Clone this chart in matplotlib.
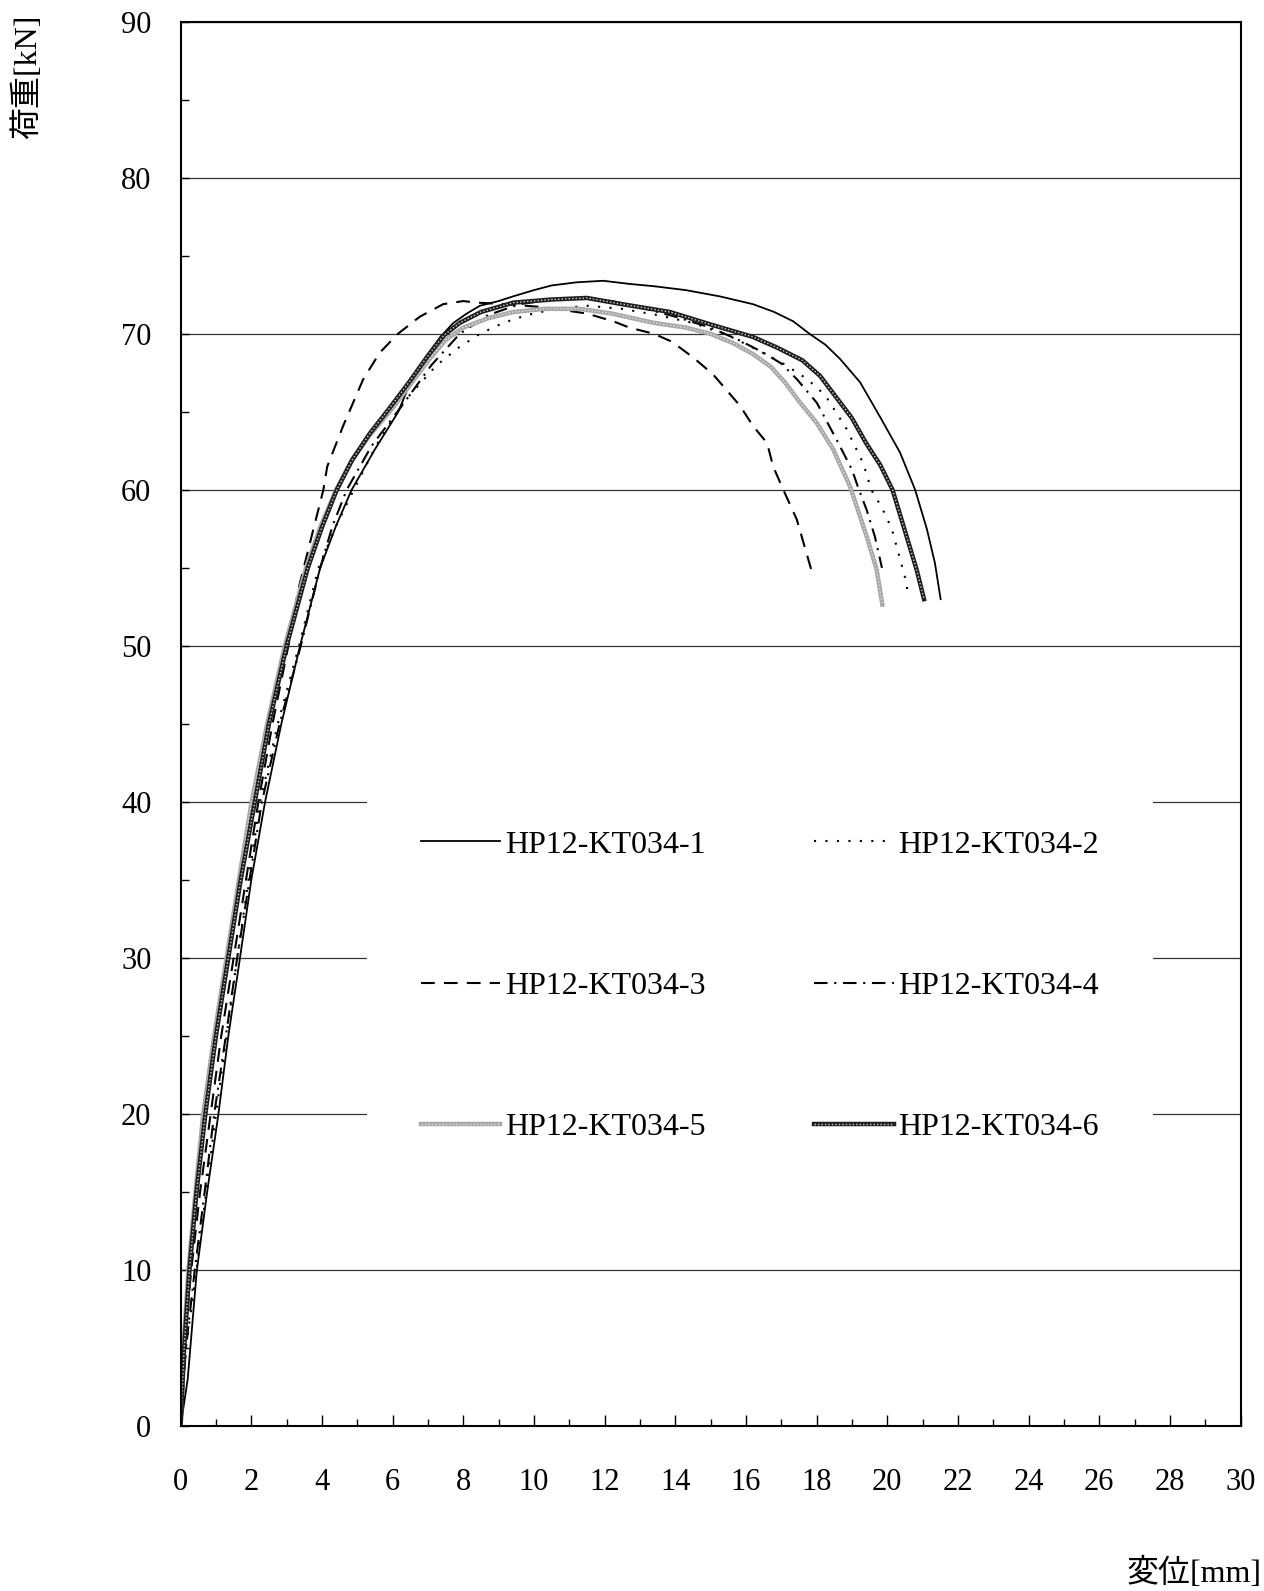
import matplotlib
matplotlib.use("Agg")
import matplotlib.pyplot as plt
from matplotlib.ticker import MultipleLocator

plt.rcParams['font.family'] = ['Liberation Serif', 'Noto Sans CJK JP']

labels = ["HP12-KT034-1", "HP12-KT034-2", "HP12-KT034-3",
          "HP12-KT034-4", "HP12-KT034-5", "HP12-KT034-6"]

# displacement [mm] / load [kN]
x1 = [0, 0.2, 0.46, 0.75, 1.07, 1.35, 1.68, 2.0, 2.39, 2.85, 3.38, 3.95, 4.4, 4.84, 5.5, 6.16, 6.45, 6.97,
      7.35, 7.72, 8.1, 8.47, 9.0, 9.41, 10.0, 10.5, 11.2, 11.96, 12.7, 13.4, 14.3, 15.26, 16.2, 16.8,
      17.34, 17.8, 18.25, 18.66, 19.23, 19.79, 20.36, 20.79, 21.12, 21.35, 21.51]
y1 = [0, 3, 10, 15, 20, 25, 30, 35, 40, 45, 50, 55, 57.7, 60, 62.6, 65, 66.6, 68.6,
      69.8, 70.7, 71.3, 71.8, 72.1, 72.4, 72.8, 73.1, 73.3, 73.4, 73.2, 73.05, 72.8, 72.4, 71.9, 71.4,
      70.8, 70.0, 69.3, 68.4, 66.9, 64.7, 62.4, 60.0, 57.5, 55.3, 53.0]

x2 = [0, 0.15, 0.45, 0.72, 1.0, 1.3, 1.6, 1.92, 2.25, 2.75, 3.35, 3.9, 4.4, 4.9, 5.55, 6.3, 7.25, 7.86,
      8.47, 9.13, 9.8, 10.6, 11.5, 12.5, 13.5, 14.5, 15.5, 16.3, 17.05, 17.6, 18.0, 18.29, 18.85, 19.32,
      19.55, 19.84, 20.13, 20.31, 20.55, 20.58]
y2 = [0, 5, 10, 15, 20, 25, 30, 35, 40, 45, 50, 55, 57.7, 60, 62.9, 65.6, 68.0, 69.1,
      70.0, 70.7, 71.2, 71.6, 71.8, 71.6, 71.2, 70.7, 69.9, 69.0, 68.1, 67.3, 66.6, 65.9, 63.9, 61.7,
      60.0, 58.9, 57.5, 56.0, 54.0, 53.2]

x3 = [0, 0.1, 0.3, 0.55, 0.85, 1.15, 1.5, 1.85, 2.2, 2.6, 3.05, 3.33, 3.66, 4.04, 4.15, 4.6, 5.17, 5.64,
      6.15, 6.77, 7.43, 8.0, 8.38, 9.2, 10.3, 11.5, 12.25, 12.7, 13.4, 13.9, 14.5, 15.07, 15.45, 15.83,
      16.2, 16.6, 16.77, 17.06, 17.44, 17.86]
y3 = [0, 5, 10, 15, 20, 25, 30, 35, 40, 45, 50, 53.6, 56.6, 60, 61.5, 64.1, 67.1, 68.8,
      70.0, 71.1, 71.9, 72.1, 72.0, 71.9, 71.7, 71.3, 70.8, 70.4, 70.0, 69.5, 68.5, 67.4, 66.4, 65.4,
      64.1, 63.0, 61.5, 60.0, 58.1, 54.8]

x4 = [0, 0.15, 0.4, 0.68, 0.95, 1.28, 1.6, 1.95, 2.3, 2.8, 3.4, 3.95, 4.3, 4.7, 5.4, 6.3, 7.1, 7.9, 8.7,
      9.6, 10.5, 11.3, 12.2, 13.0, 14.0, 15.0, 15.8, 16.49, 17.0, 17.44, 18.0, 18.57, 19.0, 19.2, 19.42,
      19.65, 19.85]
y4 = [0, 5, 10, 15, 20, 25, 30, 35, 40, 45, 50, 55, 57.7, 60, 62.8, 65.5, 68.0, 70.0, 71.2,
      71.9, 72.2, 72.3, 72.1, 71.7, 71.1, 70.4, 69.6, 68.8, 68.1, 67.1, 65.6, 63.2, 61.3, 60.0, 58.7,
      57.0, 55.0]

x5 = [0, 0.08, 0.22, 0.42, 0.64, 0.95, 1.3, 1.65, 2.01, 2.45, 2.95, 3.55, 3.95, 4.4, 4.85, 5.35, 5.95,
      6.55, 7.05, 7.5, 8.0, 8.7, 9.42, 10.3, 11.3, 12.2, 13.4, 14.3, 15.0, 15.64, 16.2, 16.7,
      17.1, 17.53, 18.0, 18.47, 18.95, 19.42, 19.70, 19.86]
y5 = [0, 5, 10, 15, 20, 25, 30, 35, 40, 45, 50, 55, 57.6, 60, 61.9, 63.5, 65.1,
      66.9, 68.4, 69.6, 70.4, 71.0, 71.4, 71.6, 71.6, 71.3, 70.7, 70.4, 70.0, 69.4, 68.7, 67.9,
      66.9, 65.6, 64.3, 62.6, 60.2, 57.0, 54.9, 52.65]

x6 = [0, 0.1, 0.25, 0.45, 0.7, 1.0, 1.35, 1.7, 2.1, 2.5, 3.0, 3.6, 4.0, 4.42, 4.85, 5.35, 5.9, 6.5,
      7.0, 7.45, 7.9, 8.5, 9.42, 10.5, 11.5, 12.5, 13.85, 15.0, 16.2, 16.9, 17.6, 18.1, 18.5,
      19.0, 19.4, 19.8, 20.15, 20.55, 20.83, 21.04]
y6 = [0, 5, 10, 15, 20, 25, 30, 35, 40, 45, 50, 55, 57.6, 60, 61.9, 63.6, 65.2, 67.0,
      68.6, 69.9, 70.7, 71.4, 72.0, 72.2, 72.3, 71.9, 71.4, 70.6, 69.8, 69.1, 68.3, 67.3, 66.1,
      64.6, 63.0, 61.6, 60.0, 57.0, 54.9, 53.0]

fig = plt.figure(figsize=(12.64, 15.91), dpi=100)
ax = fig.add_axes([180.6 / 1264, 164.7 / 1591, 1060 / 1264, 1404.6 / 1591])

l1, = ax.plot(x1, y1, color='black', lw=1.3)
l2, = ax.plot(x2, y2, color='black', lw=1.5, linestyle=(0, (1, 4.5)))
l3, = ax.plot(x3, y3, color='black', lw=1.5, linestyle=(0, (6.6, 4.4)))
l4, = ax.plot(x4, y4, color='black', lw=1.5, linestyle=(0, (6.5, 3.2, 1, 3.2)))
# patterned thick lines: base stroke + light dotted overlay
l5a, = ax.plot(x5, y5, color='#a8a8a8', lw=3.2)
l5b, = ax.plot(x5, y5, color='#dedede', lw=1.0, linestyle=(0, (1, 1.5)))
l6a, = ax.plot(x6, y6, color='#1e1e1e', lw=3.2)
l6b, = ax.plot(x6, y6, color='#cfcfcf', lw=1.0, linestyle=(0, (1, 1.5)))

ax.set_xlim(0, 30)
ax.set_ylim(0, 90)
ax.xaxis.set_major_locator(MultipleLocator(2))
ax.xaxis.set_minor_locator(MultipleLocator(1))
ax.yaxis.set_major_locator(MultipleLocator(10))
ax.yaxis.set_minor_locator(MultipleLocator(5))
ax.tick_params(axis='x', which='major', direction='in', length=8, width=1, pad=30, labelsize=22)
ax.tick_params(axis='x', which='minor', direction='in', length=5, width=1)
ax.tick_params(axis='y', which='major', direction='in', length=6, width=1, pad=21, labelsize=22)
ax.tick_params(axis='y', which='minor', direction='in', length=6, width=1)
ax.grid(axis='y', which='major', color='#333333', lw=0.9)
ax.set_axisbelow(True)
for sp in ax.spines.values():
    sp.set_linewidth(1.5)

# legend fills column by column, reorder so rows read 1|2, 3|4, 5|6
handles = [l1, l2, l3, l4, (l5a, l5b), (l6a, l6b)]
order = [0, 2, 4, 1, 3, 5]
leg = ax.legend([handles[i] for i in order], [labels[i] for i in order], ncol=2,
                loc='center', bbox_to_anchor=(760 / 1264, 605 / 1591),
                bbox_transform=fig.transFigure, fontsize=23, handlelength=2.48,
                handletextpad=0.15, columnspacing=3.4, labelspacing=3.5,
                borderpad=1.7, frameon=True, fancybox=False)
leg.get_frame().set_facecolor('white')
leg.get_frame().set_edgecolor('none')
leg.get_frame().set_alpha(1)

fig.text(28 / 1264, 1 - 15 / 1591, "荷重[kN]", rotation=90, ha='center', va='top', fontsize=23)
fig.text(1262 / 1264, 1 - 1573 / 1591, "変位[mm]", ha='right', va='center', fontsize=23)

plt.savefig("out.png", dpi=100)
